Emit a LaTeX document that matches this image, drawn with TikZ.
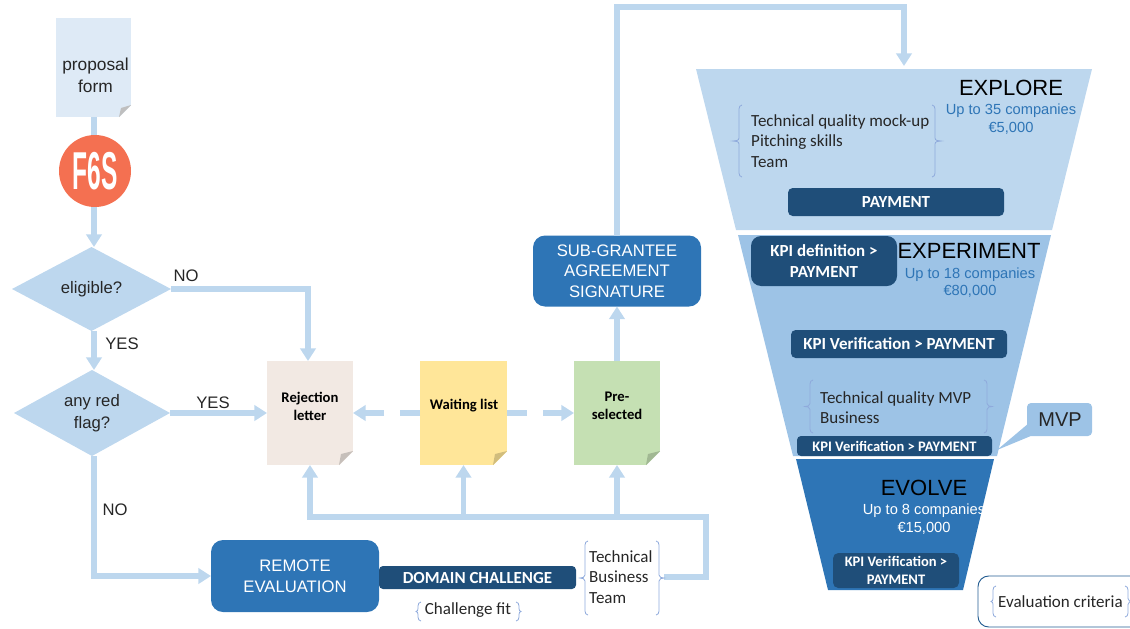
\documentclass[tikz,border=0pt]{standalone}
\usepackage{fontspec}
\setmainfont{Liberation Sans}
\newfontfamily\carl{Carlito}
\usetikzlibrary{arrows.meta,calc,shapes.geometric}
\definecolor{lineblue}{HTML}{BDD7EE}
\definecolor{midblue}{HTML}{9DC3E6}
\definecolor{strong}{HTML}{2E75B6}
\definecolor{navy}{HTML}{1F4E79}
\definecolor{bracecol}{HTML}{8FAADC}
\definecolor{ink}{HTML}{262626}
\definecolor{docblue}{HTML}{DEEAF6}
\definecolor{docrej}{HTML}{F2E9E3}
\definecolor{docwait}{HTML}{FFE699}
\definecolor{docpre}{HTML}{C5E0B3}
\definecolor{F6Scol}{HTML}{F47051}
\tikzset{
  sz/.style 2 args={minimum width=#1*0.75pt,minimum height=#2*0.75pt,inner sep=0pt,outer sep=0pt},
  conn/.style={draw=lineblue,line width=3.9pt,line join=miter},
  arr/.style={conn,-{Triangle[length=9.5pt,width=11.5pt]}},
  dash arr/.style={arr,dash pattern=on 15pt off 12pt},
  brc/.style={draw=bracecol,line width=0.6pt},
  arial/.style={font=\fontsize{#1}{16.4}\selectfont,text=ink,align=center},
  titletext/.style={font=\fontsize{16.5}{20}\selectfont,text=black},
  bluetext/.style={font=\fontsize{11}{13}\selectfont,text=strong,align=center},
  bodytext/.style={font=\carl\fontsize{12.75}{15.4}\selectfont,text=ink,align=left},
  whitebold/.style={font=\carl\bfseries\fontsize{12.7}{15.6}\selectfont,text=white,align=center},
  whitesmall/.style={font=\carl\bfseries\fontsize{10.9}{13.5}\selectfont,text=white,align=center},
  docbold/.style={font=\carl\bfseries\fontsize{11}{13.4}\selectfont,text=black,align=center},
  bigbox/.style={fill=strong,rounded corners=9pt,text=white,align=center,font=\fontsize{12.5}{15.5}\selectfont},
  navybox/.style={fill=navy,rounded corners=#1},
}
% left / right curly braces: x tip, x stem, y top, y bottom
\newcommand{\lbrc}[4]{\draw[brc] (#2+3,#3) to[out=180,in=90] (#2,#3+4) -- (#2,{(#3+#4)/2-3}) to[out=-90,in=0] (#1,{(#3+#4)/2}) to[out=0,in=90] (#2,{(#3+#4)/2+3}) -- (#2,#4-4) to[out=-90,in=180] (#2+3,#4);}
\newcommand{\rbrc}[4]{\draw[brc] (#2-3,#3) to[out=0,in=90] (#2,#3+4) -- (#2,{(#3+#4)/2-3}) to[out=-90,in=180] (#1,{(#3+#4)/2}) to[out=180,in=90] (#2,{(#3+#4)/2+3}) -- (#2,#4-4) to[out=-90,in=0] (#2-3,#4);}
% page fold on a document node
\newcommand{\fold}[3]{%
  \fill[white] ($(#1.south east)+(0.5,-#2)$) -- ($(#1.south east)+(0.5,0.5)$) -- ($(#1.south east)+(-#2,0.5)$) -- cycle;
  \fill[#3] ($(#1.south east)+(0,-#2)$) -- ($(#1.south east)+(-#2+2,-#2+3)$) -- ($(#1.south east)+(-#2,0)$) -- cycle;}
\begin{document}
\begin{tikzpicture}[x=0.75pt,y=-0.75pt]
\useasboundingbox (0,0) rectangle (1130,628);
\clip (0,0) rectangle (1130,628);

% funnel
\fill[lineblue] (696,69) -- (1092,69) -- (1052,230) -- (736,230) -- cycle;
\fill[midblue] (738,235) -- (1051,235) -- (997,456) -- (793,456) -- cycle;
\fill[strong] (796,459) -- (994,459) -- (963,590) -- (828,590) -- cycle;
\coordinate (funneltop) at (904,66);

% documents
\node[sz={75}{99},fill=docblue] (form) at (93.5,67.5) {};
\fold{form}{12}{black!25}
\node[arial=13,text depth=0pt] (formt) at (95.5,75.5) {proposal\\form};
\node[sz={86}{104},fill=docrej] (rej) at (310,413) {};
\fold{rej}{14}{docrej!82!black}
\node[docbold] (rejt) at (310,406) {Rejection\\letter};
\node[sz={87}{104},fill=docwait] (wait) at (463.5,413) {};
\fold{wait}{14}{docwait!82!black}
\node[docbold] (waitt) at (464,406) {Waiting list};
\node[sz={86}{104},fill=docpre] (pre) at (617,413) {};
\fold{pre}{14}{docpre!82!black}
\node[docbold] (pret) at (617,406) {Pre-\\selected};

% F6S badge
\node[circle,sz={72}{72},fill=F6Scol,text=white] (f6s) at (95,171) {\fontsize{40}{40}\selectfont\bfseries\scalebox{0.46}[1]{F6S}};

% decisions
\node[diamond,aspect=1.893,sz={159}{84},fill=lineblue,arial=12.5] (elig) at (91.5,289) {eligible?};
\node[diamond,aspect=1.814,sz={156}{86},fill=lineblue,arial=12.5] (flag) at (92,413) {any red\\flag?};

% boxes
\node[bigbox,sz={168}{72}] (remote) at (295,576) {REMOTE\\EVALUATION};
\node[bigbox,sz={168}{71}] (sub) at (617,271) {SUB-GRANTEE\\AGREEMENT\\SIGNATURE};
\node[navybox=3pt,sz={197}{23},whitebold] (domain) at (477.5,577.5) {DOMAIN CHALLENGE};

% connectors
\coordinate (axis) at (94,0);
\draw[conn] (axis |- form.south) -- (axis |- f6s.north);
\draw[arr] (axis |- f6s.south) -- (axis |- elig.north);
\draw[arr] (axis |- elig.south) -- (axis |- flag.north);
\draw[arr] (elig.east) -| ([xshift=-1.5pt]rej.north);
\draw[arr] (flag.east) -- (rej.west);
\draw[arr] (axis |- flag.south) |- (remote.west);
\draw[dash arr] (wait.west) -- (rej.east);
\draw[dash arr] (wait.east) -- (pre.west);
\draw[arr] (pre.north) -- (sub.south);
\coordinate (topcorner) at (617,7);
\draw[arr] (sub.north) -- (topcorner) -| (funneltop);
\coordinate (bout) at (664,577);
\coordinate (bus) at (706,517);
\draw[arr] (bout) -| (bus) -| (rej.south);
\draw[arr] (wait.south |- bus) -- (wait.south);
\draw[arr] (pre.south |- bus) -- (pre.south);

% connector labels
\node[arial=12.5] (lno1) at (186,276) {NO};
\node[arial=12.5] (lyes1) at (122,344) {YES};
\node[arial=12.5] (lyes2) at (213,403) {YES};
\node[arial=12.5] (lno2) at (115,510) {NO};

% criteria under challenge
\node[bodytext,anchor=west] (crit1) at (584.5,577) {Technical\\Business\\Team};
\lbrc{580}{585}{541}{615}
\rbrc{664}{659}{541}{615}
\node[bodytext] (crit2) at (468,610) {Challenge fit};
\lbrc{416}{418}{602}{621}
\rbrc{521}{519}{602}{621}

% EXPLORE
\node[titletext] (t1) at (1011,88) {EXPLORE};
\node[bluetext] (s1) at (1011,119) {Up to 35 companies\\€5,000};
\node[bodytext,anchor=west] (c1) at (746.5,141) {Technical quality mock-up\\Pitching skills\\Team};
\lbrc{733}{739}{105}{177}
\rbrc{941}{935}{105}{177}
\node[navybox=3.5pt,sz={216}{28},whitebold] (pay) at (896,202) {PAYMENT};

% EXPERIMENT
\node[navybox=7.5pt,sz={146}{50},whitebold] (kpidef) at (824,261) {KPI definition >\\PAYMENT};
\node[titletext] (t2) at (969,251) {EXPERIMENT};
\node[bluetext] (s2) at (970,282.5) {Up to 18 companies\\€80,000};
\node[navybox=3.5pt,sz={216}{28},whitebold] (kpiv1) at (899,344) {KPI Verification > PAYMENT};
\node[bodytext,anchor=west] (c2) at (815.5,407.5) {Technical quality MVP\\Business};
\lbrc{805}{810}{380}{433}
\rbrc{992}{987}{380}{433}
\node[navybox=3pt,sz={195}{20},whitesmall] (kpiv2) at (894.5,446) {KPI Verification > PAYMENT};

% MVP callout
\fill[midblue,rounded corners=3pt] (1027,403) rectangle (1092,436);
\fill[midblue] (1029,423) -- (997,450) -- (1032,435.5) -- cycle;
\node[arial=15] (mvp) at (1060,420) {MVP};

% EVOLVE
\node[titletext] (t3) at (924,488) {EVOLVE};
\node[bluetext,text=white] (s3) at (924,519) {Up to 8 companies\\€15,000};
\node[navybox=4pt,sz={126}{35},whitesmall] (kpiv3) at (896,570.5) {KPI Verification >\\PAYMENT};

% legend
\draw[draw=strong!80!black,line width=0.7pt,rounded corners=8pt] (1145,576) -- (978,576) -- (978,627) -- (1145,627);
\node[bodytext,anchor=west] (legend) at (993.5,602) {Evaluation criteria};
\lbrc{991}{993}{586}{617}
\rbrc{1132}{1128}{586}{617}
\end{tikzpicture}
\end{document}
